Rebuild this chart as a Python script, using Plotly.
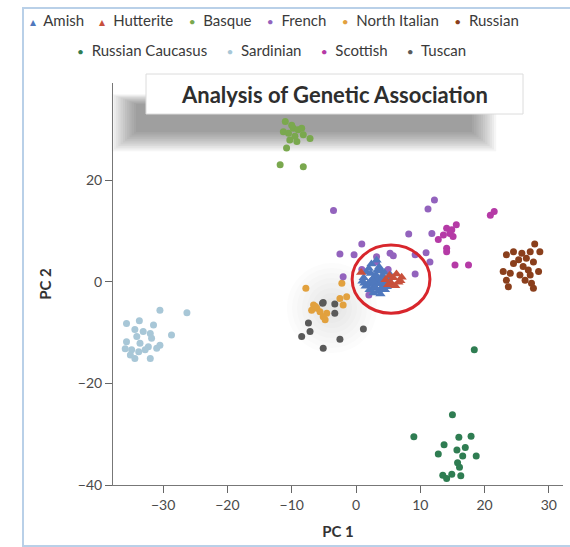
import plotly.graph_objects as go

# ---- principal component scores per population ----
amish_x = [1.2, 1.8, 2.3, 2.6, 3.0, 3.3, 3.7, 4.1, 4.5, 2.0, 2.8, 3.4, 3.9, 4.4, 5.0, 1.5, 2.4, 3.1, 3.6, 4.2,
           2.7, 3.2, 4.8, 1.0, 5.4, 3.8, 2.2, 1.6, 2.9, 3.5, 4.0, 4.6, 2.1, 3.0, 3.9, 2.5, 1.3, 4.3]
amish_y = [0.8, -0.5, 1.6, -1.2, 0.3, 2.2, -0.4, 1.1, -1.6, 2.6, 0.9, -1.9, 0.2, 1.8, 0.5, -0.9, 3.5, 1.3, 2.9, -0.8,
           -2.2, 4.2, -1.0, 0.1, 1.2, -2.4, 0.0, 1.9, -0.2, 0.6, -1.5, 0.0, -1.6, -1.1, 2.1, 0.4, -0.3, 0.9]

hutterite_x = [4.6, 5.2, 5.8, 6.3, 6.9, 5.5, 6.1, 7.1, 5.0, 6.6, 0.8]
hutterite_y = [0.4, 1.2, 0.8, 1.5, 0.2, -0.3, -0.8, 0.9, -0.6, -0.1, 1.8]

basque_x = [-11.0, -11.3, -10.5, -9.75, -9.0, -8.45, -8.2, -7.15, -10.3, -10.8, -9.2, -11.8, -8.2, -10.0, -9.5]
basque_y = [31.5, 29.5, 29.2, 30.2, 29.9, 30.2, 28.9, 28.2, 27.9, 26.3, 27.6, 23.0, 22.6, 30.8, 28.6]

french_x = [-3.5, 12.2, 11.2, 8.2, 11.8, 0.9, -2.5, -0.3, 3.2, 5.3, 5.8, 9.2, 10.9, 11.5, 3.2, 5.0, 9.2, 0.9, -2.0, 2.0]
french_y = [14.0, 16.1, 14.3, 9.4, 9.5, 7.4, 5.45, 5.3, 4.9, 5.6, 5.1, 5.3, 5.7, 3.9, 3.9, 2.4, 1.5, 2.4, 1.0, -2.6]

north_italian_x = [-7.8, -6.6, -6.1, -6.9, -5.6, -4.55, -5.1, -4.8, -2.5, -1.45, -2.0, -2.2, -6.3]
north_italian_y = [-1.3, -4.6, -5.2, -5.6, -5.9, -6.2, -6.9, -7.5, -3.3, -2.95, -4.6, -0.3, -4.9]

russian_x = [27.8, 24.5, 23.4, 25.8, 27.1, 28.6, 26.5, 27.6, 25.3, 24.5, 26.0, 26.8, 28.4, 22.9, 24.0, 25.5, 27.1, 23.4, 26.3, 27.3, 23.7, 27.6]
russian_y = [7.4, 5.9, 5.3, 5.6, 5.9, 5.9, 4.6, 3.9, 4.3, 3.6, 3.0, 2.3, 2.0, 2.0, 1.65, 1.3, 1.3, 0.3, 0.3, -0.3, -1.0, -1.3]

caucasus_x = [18.4, 15.0, 9.0, 16.0, 17.9, 13.7, 17.0, 15.7, 12.8, 18.7, 16.6, 15.8, 16.1, 13.5, 14.1, 14.9, 16.3]
caucasus_y = [-13.4, -26.2, -30.5, -30.6, -30.4, -32.1, -32.6, -33.1, -33.9, -34.3, -34.3, -35.6, -36.5, -38.1, -38.7, -37.9, -38.2]

sardinian_x = [-30.5, -26.3, -35.7, -33.7, -31.5, -34.4, -33.1, -32.0, -28.7, -34.1, -31.8, -35.7, -33.6, -30.5, -32.3, -35.9, -34.9, -33.8, -31.0, -35.1, -32.0, -34.4, -32.8]
sardinian_y = [-5.6, -6.1, -8.2, -7.7, -8.5, -9.4, -9.8, -10.2, -10.5, -10.8, -11.1, -11.8, -12.1, -12.5, -12.8, -13.2, -13.4, -13.8, -13.1, -14.4, -15.1, -15.1, -13.4]

scottish_x = [20.9, 21.5, 14.1, 14.9, 14.6, 13.6, 12.8, 15.1, 14.1, 14.1, 15.4, 17.5, 15.6]
scottish_y = [13.1, 13.8, 10.5, 10.2, 9.5, 9.2, 8.3, 8.9, 6.6, 5.9, 3.3, 3.3, 11.2]

tuscan_x = [-5.1, -3.3, -7.4, -7.15, -8.45, -5.1, -2.5, 1.15, -5.2, -3.3]
tuscan_y = [-4.1, -6.2, -8.1, -9.8, -10.8, -13.1, -11.3, -9.3, -4.25, -4.4]

populations = ["Amish", "Hutterite", "Basque", "French", "North Italian", "Russian",
               "Russian Caucasus", "Sardinian", "Scottish", "Tuscan"]
pop_x = [amish_x, hutterite_x, basque_x, french_x, north_italian_x, russian_x,
         caucasus_x, sardinian_x, scottish_x, tuscan_x]
pop_y = [amish_y, hutterite_y, basque_y, french_y, north_italian_y, russian_y,
         caucasus_y, sardinian_y, scottish_y, tuscan_y]
pop_colors = ["#4f78bd", "#c8503c", "#7aa84e", "#9363bd", "#e2a13e", "#8a3f1c",
              "#2f7d52", "#a8c7d7", "#b53aa6", "#5a5a5a"]
pop_symbols = ["triangle-up", "triangle-up", "circle", "circle", "circle", "circle",
               "circle", "circle", "circle", "circle"]
legend_rows = [populations[:6], populations[6:]]

x_ticks = [-30, -20, -10, 0, 10, 20, 30]
y_ticks = [-40, -20, 0, 20]

# ---- layout geometry (pixels) ----
W, H = 570, 547
ML, MR, MT, MB = 113, 7, 83, 62
PW, PH = W - ML - MR, H - MT - MB


def px(x):
    return (x - ML) / PW


def py(y):
    return (H - MB - y) / PH


FONT = "Lato, 'Open Sans', sans-serif"

fig = go.Figure()

# scatter layers: draw in an order that keeps the Amish/Hutterite core on top
draw_order = [7, 2, 6, 5, 9, 4, 3, 8, 0, 1]
for i in draw_order:
    fig.add_trace(go.Scatter(
        x=pop_x[i], y=pop_y[i], mode="markers", name=populations[i],
        showlegend=False,
        marker=dict(color=pop_colors[i], symbol=pop_symbols[i],
                    size=9 if pop_symbols[i] != "circle" else 7,
                    line=dict(width=0)),
    ))

shapes = []

# soft drop shadow under the title banner
for k in range(12):
    g = k * 2.2
    shapes.append(dict(type="rect", xref="paper", yref="paper", layer="below",
                       x0=px(136 - g), x1=px(472 + g), y0=py(132 + g * 0.8), y1=py(104 - g * 0.4),
                       fillcolor="#3a3a3a", opacity=0.05, line=dict(width=0)))
# faint haze around the southern-European cluster
for k in range(8):
    r = 10 + k * 5
    shapes.append(dict(type="circle", xref="paper", yref="paper", layer="below",
                       x0=px(332 - r), x1=px(332 + r), y0=py(308 + r), y1=py(308 - r),
                       fillcolor="#808080", opacity=0.022, line=dict(width=0)))
# title banner
shapes.append(dict(type="rect", xref="paper", yref="paper", layer="below",
                   x0=px(146), x1=px(523), y0=py(114), y1=py(74),
                   fillcolor="white", line=dict(color="#dcdcdc", width=1)))
# outer frame around the slide
shapes.append(dict(type="rect", xref="paper", yref="paper", layer="above",
                   x0=px(23), x1=px(580), y0=py(546), y1=py(8),
                   fillcolor="rgba(0,0,0,0)", line=dict(color="#b9d0e8", width=2)))
# highlighted Amish / Hutterite cluster
shapes.append(dict(type="circle", xref="x", yref="y", layer="above",
                   x0=-0.6, x1=11.5, y0=-6.2, y1=7.2,
                   line=dict(color="#d8262c", width=3)))

annotations = [
    dict(text="<b>Analysis of Genetic Association</b>", xref="paper", yref="paper",
         x=px(334), y=py(94), xanchor="center", yanchor="middle", showarrow=False,
         font=dict(family=FONT, size=22, color="#2e2e2e")),
]

# two-row legend: coloured glyph followed by the population name
SP = "\u00a0"
legend_layout = [(28, 20, 4), (75, 50, 5)]
for names, (lx, ly, gap) in zip(legend_rows, legend_layout):
    parts = []
    for n in names:
        i = populations.index(n)
        glyph = "\u25b4" if pop_symbols[i] == "triangle-up" else "\u2022"
        parts.append(f'<span style="color:{pop_colors[i]};font-size:12px">{glyph}</span>{SP}{SP}{n}')
    annotations.append(dict(text=(SP * gap).join(parts), xref="paper", yref="paper",
                            x=px(lx), y=py(ly), xanchor="left", yanchor="middle",
                            showarrow=False, font=dict(family=FONT, size=15, color="#3a3a3a")))

fig.update_layout(
    width=W, height=H, autosize=False,
    margin=dict(l=ML, r=MR, t=MT, b=MB, pad=0),
    paper_bgcolor="white", plot_bgcolor="rgba(0,0,0,0)",
    shapes=shapes, annotations=annotations,
    font=dict(family=FONT, color="#444"),
    xaxis=dict(range=[-37.8, 32.2], tickvals=x_ticks, ticks="outside", ticklen=7,
               tickcolor="#666", showline=True, linecolor="#777", linewidth=1,
               showgrid=False, zeroline=False, tickfont=dict(size=14, color="#4a4a4a"),
               title=dict(text="<b>PC 1</b>", standoff=14,
                          font=dict(size=15, color="#333"))),
    yaxis=dict(range=[-40, 39.1], tickvals=y_ticks, ticks="outside", ticklen=7,
               tickcolor="#666", showline=True, linecolor="#777", linewidth=1,
               showgrid=False, zeroline=False, tickfont=dict(size=14, color="#4a4a4a"),
               title=dict(text="<b>PC 2</b>", standoff=22,
                          font=dict(size=15, color="#333"))),
)

fig.write_html("out.html")
